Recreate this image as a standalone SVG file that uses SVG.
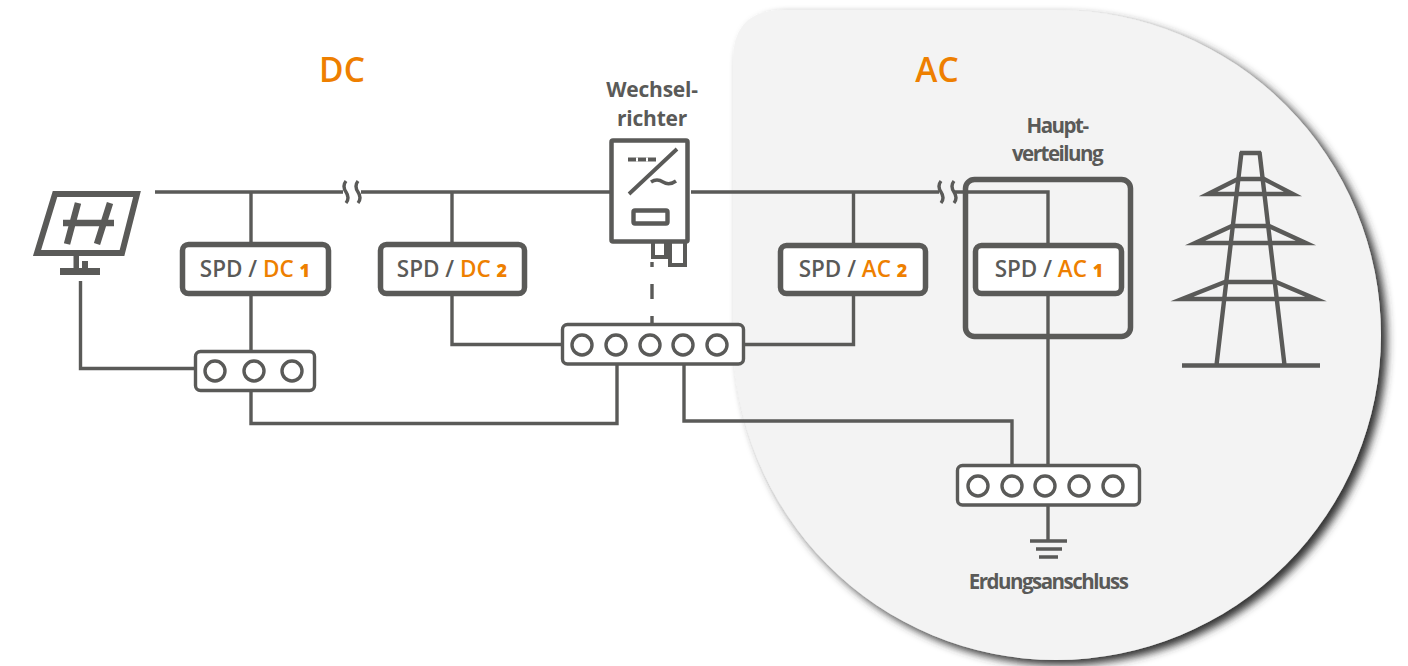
<svg xmlns="http://www.w3.org/2000/svg" width="1408" height="666" viewBox="0 0 1408 666">
<defs>
<style>
text{font-family:"Open Sans","Liberation Sans",sans-serif;font-weight:600;fill:#5a5a58;text-anchor:middle}
.o{fill:#ee7f00}
.h{font-size:33.500px;fill:#ee7f00}
.l{font-size:21px;font-weight:700;letter-spacing:-.2px}
.n{font-size:20.500px;font-weight:700;letter-spacing:-1.500px}
.s{font-size:22.500px}
.d{font-size:18px;font-weight:800}
.w{fill:none;stroke:#5a5a58;stroke-width:3.400;stroke-linejoin:miter}
.b{fill:#fff;stroke:#5a5a58;stroke-width:5.500}
.t{fill:#fff;stroke:#5a5a58;stroke-width:3.400}
.u{fill:#fff;stroke:#5a5a58;stroke-width:4}
.c{fill:none;stroke:#5a5a58;stroke-width:3.400}
.g{fill:none;stroke:#5a5a58;stroke-width:4.400;stroke-miterlimit:10}
</style>
<filter id="sh" x="-5%" y="-5%" width="112%" height="112%">
<feDropShadow dx="6" dy="5" stdDeviation="4.500" flood-color="#333" flood-opacity="1"/>
</filter>
</defs>
<rect width="1408" height="666" fill="#fff"/>
<path id="ac-zone" d="M733 60Q733 10 783 10L1056 10A325 325 0 0 1 1056 660A323 325 0 0 1 733 335Z" fill="#f3f3f3" filter="url(#sh)"/>
<text class="h" x="342" y="82">DC</text>
<text class="h" x="937" y="82">AC</text>
<g id="connectors">
<path class="w" d="M155 192H343M361 192H610M691 192H939M953 192H1048V243M251 192V243M452 192V243M853.500 192V243"/>
<path class="w" d="M346 181q-4 5 0 11t0 11M358 181q-4 5 0 11t0 11M941 181q-4 5 0 11t0 11M954 181q-4 5 0 11t0 11"/>
<path class="w" d="M80.500 281V368.500H194M251 296V350M251 392V423.500H617V365M452 296V344.500H561M744 344.500H853.500V296M684 365V421H1012V464M1048 296V464M1048 506V541"/>
<path class="w" stroke-dasharray="15 17" stroke-dashoffset="10" d="M652 262V323"/>
</g>
<g id="pv-panel">
<path d="M55 194H137L122 253H37Z" fill="none" stroke="#5a5a58" stroke-width="6"/>
<path d="M78 203L67 244M110 203L97 244M63 223H114" fill="none" stroke="#5a5a58" stroke-width="6.500"/>
<path d="M60 268H100V275H60ZM73.500 256H79V268H73.500ZM82 261H88V268H82Z" fill="#5a5a58"/>
</g>
<g id="spd-dc1"><rect class="b" x="182.500" y="244.500" width="146" height="49" rx="6"/><text class="s" x="255" y="277">SPD / <tspan class="o">DC <tspan class="d">1</tspan></tspan></text></g>
<g id="spd-dc2"><rect class="b" x="380.500" y="244.500" width="144" height="49" rx="6"/><text class="s" x="452" y="277">SPD / <tspan class="o">DC <tspan class="d">2</tspan></tspan></text></g>
<g id="spd-ac2"><rect class="b" x="780.500" y="245.500" width="145" height="48" rx="6"/><text class="s" x="853" y="277">SPD / <tspan class="o">AC <tspan class="d">2</tspan></tspan></text></g>
<g id="hauptverteilung">
<rect class="g" style="stroke-width:5.500" x="965.500" y="179.500" width="165" height="157" rx="9"/>
<text class="n" x="1057" y="133">Haupt-</text>
<text class="n" x="1057" y="161">verteilung</text>
</g>
<g id="spd-ac1"><rect class="b" x="975.500" y="245.500" width="146" height="48" rx="6"/><text class="s" x="1049" y="277">SPD / <tspan class="o">AC <tspan class="d">1</tspan></tspan></text></g>
<g id="inverter">
<rect class="u" x="653" y="241" width="13" height="16"/>
<rect class="u" x="670" y="241" width="15" height="24"/>
<rect class="b" style="stroke-width:4.500" x="611.500" y="140.500" width="76" height="101" rx="1.500"/>
<path d="M628 159.500H656M629 194L677 149" fill="none" stroke="#5a5a58" stroke-width="3.800"/>
<path d="M628 159.500H656" fill="none" stroke="#fff" stroke-width="4" stroke-dasharray="2 8" stroke-dashoffset="-8"/>
<path d="M651 182q6 -4 12 0t13 -1" fill="none" stroke="#5a5a58" stroke-width="3.500"/>
<rect class="g" x="633.500" y="210.500" width="34" height="13" rx="1.500"/>
<text class="l" x="652" y="97">Wechsel-</text>
<text class="l" x="652" y="126">richter</text>
</g>
<g id="bar-dc">
<rect class="t" x="195.500" y="351.500" width="119" height="39" rx="5"/>
<circle class="c" cx="215" cy="371" r="10"/><circle class="c" cx="254" cy="371" r="10"/><circle class="c" cx="292" cy="371" r="10"/>
</g>
<g id="bar-inverter">
<rect class="t" x="562.500" y="324.500" width="181" height="39.500" rx="5"/>
<circle class="c" cx="582" cy="345" r="10"/><circle class="c" cx="616" cy="345" r="10"/><circle class="c" cx="650" cy="345" r="10"/><circle class="c" cx="683" cy="345" r="10"/><circle class="c" cx="717" cy="345" r="10"/>
</g>
<g id="pylon">
<path class="g" d="M1240 153H1261M1241.500 152L1216.500 365M1259.500 152L1284.500 365M1182 365.500H1320"/>
<path class="g" d="M1238 179H1264L1293 194H1208ZM1232 226H1269L1306 243H1195ZM1225 282H1276L1316 299H1182Z"/>
</g>
<g id="bar-ground">
<rect class="t" x="957.500" y="465.500" width="182" height="39.500" rx="5"/>
<circle class="c" cx="978" cy="486" r="10"/><circle class="c" cx="1012" cy="486" r="10"/><circle class="c" cx="1045" cy="486" r="10"/><circle class="c" cx="1079" cy="486" r="10"/><circle class="c" cx="1113" cy="486" r="10"/>
</g>
<g id="ground">
<path d="M1030 541H1067M1036 549H1062M1039 557H1058" fill="none" stroke="#5a5a58" stroke-width="3.400"/>
<text class="n" x="1048" y="589">Erdungsanschluss</text>
</g>
</svg>
